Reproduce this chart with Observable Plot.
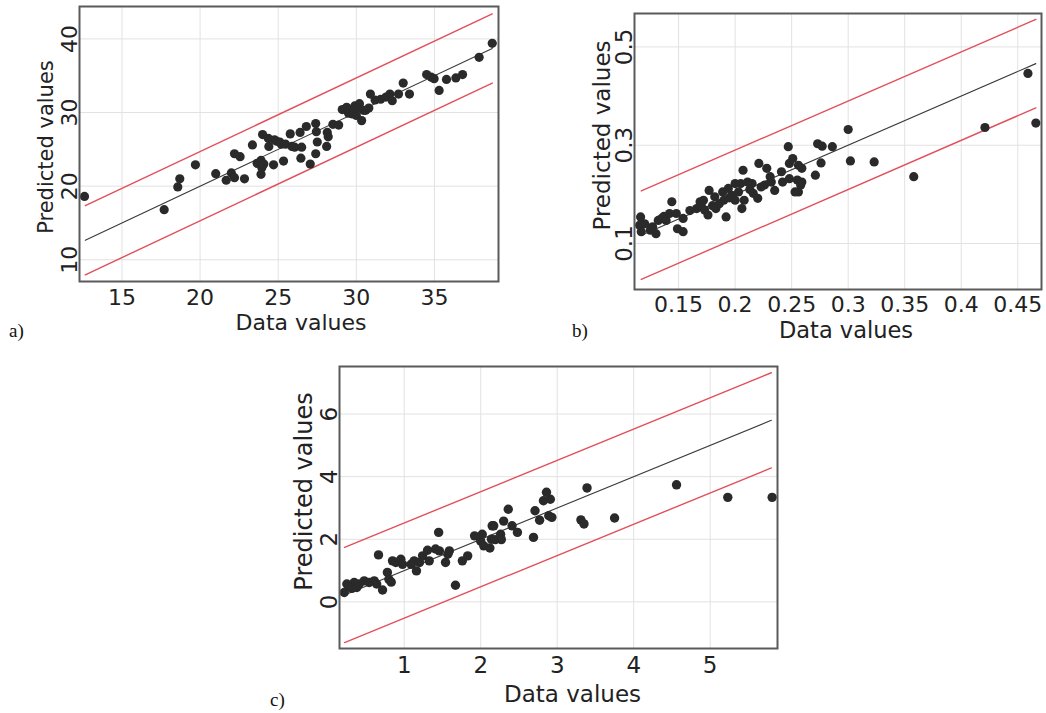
<!DOCTYPE html>
<html><head><meta charset="utf-8">
<script src="https://cdn.jsdelivr.net/npm/d3@7"></script>
<script src="https://cdn.jsdelivr.net/npm/@observablehq/plot@0.6"></script>
<style>
html,body{margin:0;padding:0;background:#fff}
body{width:1046px;height:713px;position:relative;overflow:hidden;font-family:"DejaVu Sans",sans-serif}
.panel{position:absolute}
.lab{position:absolute;font-family:"Liberation Serif","Times New Roman",serif;font-size:19px;color:#111;line-height:1}
</style></head><body>
<div id="pa" class="panel" style="left:0;top:0"></div>
<div id="pb" class="panel" style="left:560px;top:0"></div>
<div id="pc" class="panel" style="left:260px;top:355px"></div>
<div class="lab" style="left:9px;top:321px">a)</div>
<div class="lab" style="left:572px;top:321px">b)</div>
<div class="lab" style="left:270px;top:690px">c)</div>
<script>
// ---- data ----
const aPoints = [[12.6,18.6],[17.7,16.8],[18.57,19.9],[18.7,21.0],[19.7,22.9],[21.0,21.7],[21.67,20.8],[22.0,21.8],[22.2,21.15],[22.2,24.4],[22.56,24.0],[22.84,21.0],[23.35,25.6],[23.65,23.1],[23.9,23.5],[23.95,22.5],[23.9,21.6],[24.0,27.0],[24.08,23.0],[24.36,26.5],[24.4,25.4],[24.7,22.9],[24.76,26.3],[24.9,26.1],[25.1,26.0],[25.2,25.7],[25.34,23.4],[25.47,25.7],[25.77,27.1],[25.88,25.4],[26.05,25.3],[26.4,27.3],[26.5,25.3],[26.45,23.8],[26.8,28.1],[27.05,23.0],[27.4,28.5],[27.44,27.4],[27.5,26.0],[27.4,24.4],[28.1,25.4],[28.14,27.3],[28.2,26.7],[28.5,28.4],[28.87,28.3],[29.1,30.4],[29.38,30.7],[29.5,29.9],[29.6,30.3],[29.74,29.8],[29.8,30.2],[29.9,30.9],[30.0,29.6],[30.1,30.6],[30.2,31.2],[30.34,28.9],[30.45,30.3],[30.6,30.3],[30.8,30.6],[30.9,32.5],[31.2,31.7],[31.56,31.8],[31.9,32.1],[32.15,32.5],[32.3,31.6],[32.7,32.5],[33.0,34.0],[33.4,32.5],[34.5,35.15],[34.8,34.8],[34.98,34.6],[35.3,33.0],[35.77,34.5],[36.37,34.7],[36.8,35.15],[37.86,37.5],[38.7,39.4]];
const aXTicks = [15,20,25,30,35];
const aYTicks = [10,20,30,40];
const aXDomain = [12.28,39.1];
const aYDomain = [7.05,44.4];
const aLineRange = [12.65,38.7];
const aBand = 4.7;

const bPoints = [[0.1164,0.154],[0.1155,0.137],[0.117,0.124],[0.12,0.14],[0.125,0.127],[0.127,0.134],[0.130,0.120],[0.132,0.147],[0.135,0.151],[0.137,0.155],[0.139,0.147],[0.144,0.185],[0.142,0.161],[0.148,0.161],[0.149,0.130],[0.154,0.124],[0.154,0.151],[0.16,0.167],[0.166,0.171],[0.169,0.185],[0.17,0.178],[0.173,0.168],[0.172,0.188],[0.177,0.208],[0.176,0.158],[0.18,0.177],[0.182,0.195],[0.183,0.171],[0.186,0.181],[0.189,0.205],[0.192,0.154],[0.190,0.188],[0.194,0.212],[0.195,0.193],[0.197,0.198],[0.200,0.188],[0.200,0.222],[0.203,0.205],[0.205,0.222],[0.207,0.249],[0.206,0.171],[0.208,0.188],[0.211,0.225],[0.213,0.21],[0.215,0.222],[0.216,0.202],[0.220,0.192],[0.221,0.263],[0.223,0.215],[0.226,0.219],[0.228,0.253],[0.231,0.236],[0.232,0.225],[0.235,0.208],[0.241,0.246],[0.242,0.225],[0.247,0.297],[0.248,0.263],[0.248,0.232],[0.251,0.273],[0.255,0.229],[0.256,0.205],[0.259,0.253],[0.258,0.219],[0.256,0.259],[0.259,0.225],[0.253,0.205],[0.273,0.303],[0.277,0.298],[0.286,0.297],[0.276,0.264],[0.271,0.239],[0.300,0.332],[0.302,0.268],[0.323,0.266],[0.358,0.236],[0.421,0.336],[0.459,0.446],[0.466,0.345]];
const bXTicks = [0.15,0.2,0.25,0.3,0.35,0.4,0.45];
const bYTicks = [0.1,0.3,0.5];
const bXDomain = [0.111,0.471];
const bYDomain = [0.0064,0.568];
const bLineRange = [0.117,0.466];
const bBand = 0.09;

const cPoints = [[0.216,0.30],[0.281,0.51],[0.25,0.57],[0.346,0.62],[0.316,0.43],[0.412,0.57],[0.38,0.46],[0.477,0.67],[0.542,0.62],[0.608,0.67],[0.64,0.57],[0.664,1.50],[0.717,0.38],[0.78,0.94],[0.80,0.72],[0.83,0.63],[0.847,1.31],[0.89,1.26],[0.956,1.36],[0.978,1.20],[1.09,1.20],[1.13,1.31],[1.16,0.99],[1.20,1.26],[1.24,1.47],[1.305,1.65],[1.327,1.31],[1.41,1.69],[1.45,2.22],[1.46,1.63],[1.54,1.26],[1.57,1.52],[1.59,1.63],[1.67,0.53],[1.76,1.31],[1.83,1.47],[1.92,2.11],[2.0,1.94],[2.02,2.16],[2.04,1.79],[2.12,1.72],[2.14,2.0],[2.15,2.43],[2.17,2.43],[2.19,1.99],[2.26,2.16],[2.27,1.99],[2.30,2.58],[2.36,2.96],[2.41,2.43],[2.48,2.22],[2.69,2.06],[2.71,2.91],[2.77,2.61],[2.82,3.23],[2.86,3.50],[2.91,3.28],[2.89,2.75],[2.93,2.70],[3.31,2.62],[3.35,2.49],[3.39,3.64],[3.75,2.68],[4.56,3.74],[5.23,3.34],[5.81,3.34]];
const cXTicks = [1,2,3,4,5];
const cYTicks = [0,2,4,6];
const cXDomain = [0.154,5.88];
const cYDomain = [-1.49,7.52];
const cLineRange = [0.22,5.8];
const cBand = 1.52;

const RED = "#e2505b";

function panel(o) {
  const ref = o.lineRange.map(v => ({x: v, y: v}));
  const up = o.lineRange.map(v => ({x: v, y: v + o.band}));
  const lo = o.lineRange.map(v => ({x: v, y: v - o.band}));
  return Plot.plot({
    width: o.width, height: o.height,
    marginLeft: o.m[0], marginRight: o.m[1], marginTop: o.m[2], marginBottom: o.m[3],
    style: {fontFamily: "'DejaVu Sans', sans-serif", fontSize: "21px", color: "#222", background: "#fff", overflow: "visible"},
    x: {domain: o.xDomain, label: null},
    y: {domain: o.yDomain, label: null},
    marks: [
      Plot.gridX(o.xTicks, {stroke: "#e2e2e2", strokeOpacity: 1}),
      Plot.gridY(o.yTicks, {stroke: "#e2e2e2", strokeOpacity: 1}),
      Plot.line(up, {x: "x", y: "y", stroke: RED, strokeWidth: 1.4}),
      Plot.line(lo, {x: "x", y: "y", stroke: RED, strokeWidth: 1.4}),
      Plot.line(ref, {x: "x", y: "y", stroke: "#3a3a3a", strokeWidth: 1.1}),
      Plot.dot(o.points, {x: d => d[0], y: d => d[1], r: o.r, fill: "#2a2a2a", stroke: "none"}),
      Plot.frame({stroke: "#5a5a5a", strokeWidth: 2}),
      Plot.axisX(o.xTicks, {tickSize: 0, tickPadding: o.xPad, tickFormat: d => String(d), fill: "#222", fontSize: o.fsX}),
      Plot.axisY(o.yTicks, {tickSize: 0, tickRotate: -90, tickPadding: o.yPad, tickFormat: d => String(d), fill: "#222", fontSize: o.fsY}),
      Plot.text(["Predicted values"], {text: d => d, frameAnchor: "left", rotate: -90, textAnchor: "middle", lineAnchor: "bottom", dx: o.ylab[0], dy: o.ylab[1], fill: "#222", fontSize: o.fsYL}),
      Plot.text(["Data values"], {text: d => d, frameAnchor: "bottom", textAnchor: "middle", lineAnchor: "top", dx: o.xlab[0], dy: o.xlab[1], fill: "#222", fontSize: o.fsXL})
    ]
  });
}

document.getElementById("pa").append(panel({
  points: aPoints, xTicks: aXTicks, yTicks: aYTicks, xDomain: aXDomain, yDomain: aYDomain,
  lineRange: aLineRange, band: aBand, width: 510, height: 345, m: [79, 12, 6, 64],
  fsX: 22, fsY: 22, fsYL: 21, fsXL: 22, r: 4.6, xPad: 8, yPad: 3, ylab: [-27, 3], xlab: [12, 33]
}));
document.getElementById("pb").append(panel({
  points: bPoints, xTicks: bXTicks, yTicks: bYTicks, xDomain: bXDomain, yDomain: bYDomain,
  lineRange: bLineRange, band: bBand, width: 486, height: 345, m: [74, 5, 13, 56],
  fsX: 22, fsY: 23, fsYL: 23, fsXL: 22.5, r: 4.6, xPad: 7, yPad: 3, ylab: [-25, -16], xlab: [8, 33]
}));
document.getElementById("pc").append(panel({
  points: cPoints, xTicks: cXTicks, yTicks: cYTicks, xDomain: cXDomain, yDomain: cYDomain,
  lineRange: cLineRange, band: cBand, width: 530, height: 358, m: [79, 13, 11, 65],
  fsX: 23, fsY: 23, fsYL: 24, fsXL: 23, r: 4.7, xPad: 8, yPad: 3, ylab: [-28, -16], xlab: [14, 37]
}));
</script>
</body></html>
